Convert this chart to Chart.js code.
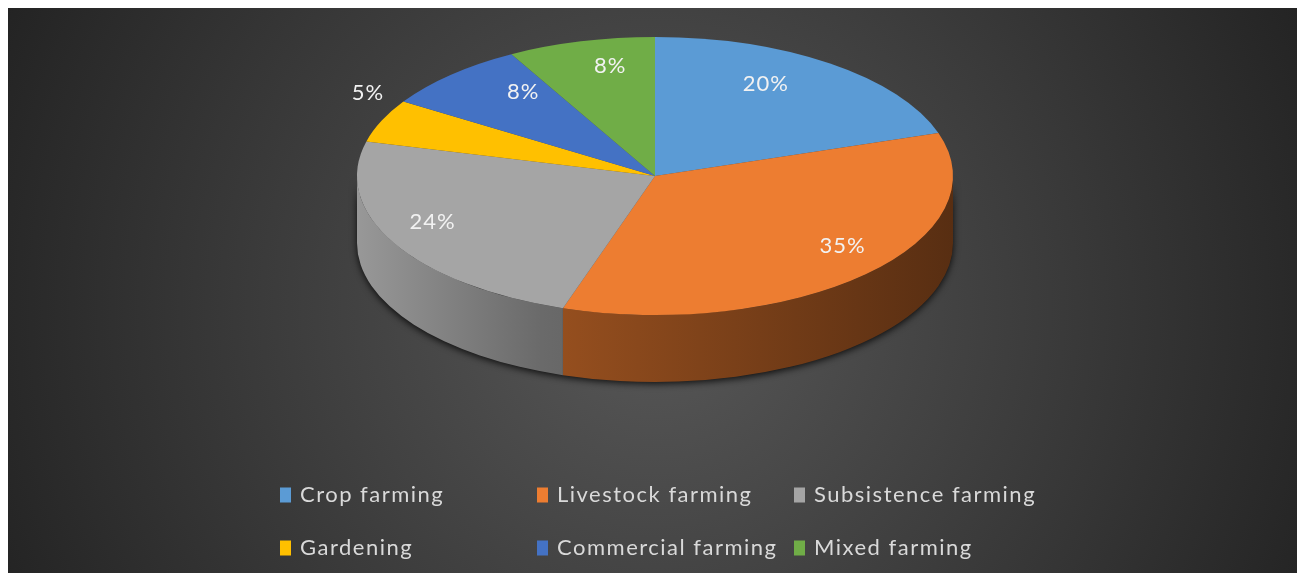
<!DOCTYPE html>
<html>
<head>
<meta charset="utf-8">
<script src="https://cdn.jsdelivr.net/npm/chart.js@4.4.0/dist/chart.umd.min.js"></script>
<style>
body{margin:0;background:#fff;overflow:hidden;}
#caja{position:absolute;left:8px;top:8px;width:1289px;height:565px;}
</style>
</head>
<body>
<div id="caja"><canvas id="Grafica1"></canvas></div>
<script>
// datos de la grafica
const categorias = ['Crop farming', 'Livestock farming', 'Subsistence farming', 'Gardening', 'Commercial farming', 'Mixed farming'];
const porcentajes = [20, 35, 24, 5, 8, 8];
const colores = ['#5b9bd5', '#ed7d31', '#a5a5a5', '#ffc000', '#4472c4', '#70ad47'];

// forma del pastel inclinado (px del canvas)
const PIE = {cx: 647, cy: 168, rx: 298, ry: 139, depth: 67, apex: 26};
// leyenda en rejilla de 3 columnas
const LEG = {x: 272, y: 487, colW: 257, rowH: 53, bw: 11, bh: 15};

const sombra = (hex, f) => {
    const n = parseInt(hex.slice(1), 16);
    const r = Math.round(((n >> 16) & 255) * f);
    const g = Math.round(((n >> 8) & 255) * f);
    const b = Math.round((n & 255) * f);
    return `rgb(${r},${g},${b})`;
}

const lado = (ctx, a1, a2) => {
    ctx.beginPath();
    ctx.ellipse(PIE.cx, PIE.cy, PIE.rx, PIE.ry, 0, a1, a2, false);
    ctx.ellipse(PIE.cx, PIE.cy + PIE.depth, PIE.rx, PIE.ry, 0, a2, a1, true);
    ctx.closePath();
}

const pastel3d = {
    id: 'pastel3d',
    beforeDraw(chart) {
        const ctx = chart.ctx;
        const g = ctx.createRadialGradient(648, 300, 0, 648, 300, 720);
        g.addColorStop(0, '#585858');
        g.addColorStop(1, '#232323');
        ctx.save();
        ctx.fillStyle = g;
        ctx.fillRect(0, 0, chart.width, chart.height);
        ctx.restore();
    },
    beforeDatasetsDraw(chart) {
        const ctx = chart.ctx;
        const arcos = chart.getDatasetMeta(0).data;
        // sombra del borde
        ctx.save();
        ctx.shadowColor = 'rgba(0,0,0,0.8)';
        ctx.shadowBlur = 7;
        ctx.shadowOffsetY = 2;
        ctx.fillStyle = '#202020';
        lado(ctx, 0, Math.PI);
        ctx.fill();
        ctx.restore();
        // caras laterales
        arcos.forEach((arc, i) => {
            const a1 = Math.max(arc.startAngle, 0);
            const a2 = Math.min(arc.endAngle, Math.PI);
            if (a2 <= a1) return;
            const g = ctx.createLinearGradient(PIE.cx - PIE.rx, 0, PIE.cx + PIE.rx, 0);
            g.addColorStop(0, sombra(colores[i], 0.92));
            g.addColorStop(0.31, sombra(colores[i], 0.64));
            g.addColorStop(1, sombra(colores[i], 0.37));
            ctx.fillStyle = g;
            lado(ctx, a1, a2);
            ctx.fill();
        });
        // aplastar el circulo en elipse
        const a = arcos[0];
        const r = a.outerRadius;
        ctx.save();
        ctx.translate(PIE.cx, PIE.cy);
        ctx.scale(PIE.rx / r, PIE.ry / r);
        ctx.translate(-a.x, -a.y);
    },
    afterDatasetsDraw(chart) {
        const ctx = chart.ctx;
        ctx.restore();
        const arcos = chart.getDatasetMeta(0).data;
        const ay = PIE.cy - PIE.apex;
        ctx.save();
        ctx.font = '22px Lato';
        ctx.letterSpacing = '1px';
        ctx.fillStyle = '#f2f2f2';
        ctx.textAlign = 'center';
        ctx.textBaseline = 'middle';
        arcos.forEach((arc, i) => {
            const m = (arc.startAngle + arc.endAngle) / 2;
            const ey = PIE.cy + PIE.ry * Math.sin(m);
            let x, y;
            if (porcentajes[i] < 6) {
                // etiqueta fuera del pastel
                x = PIE.cx + PIE.rx * 1.05 * Math.cos(m);
                y = ay + 1.1 * (ey - ay) - 25;
            } else {
                const fx = 0.77 + 0.17 * Math.sin(m);
                x = PIE.cx + PIE.rx * fx * Math.cos(m);
                y = ay + 0.77 * (ey - ay);
            }
            ctx.fillText(porcentajes[i] + '%', x, y);
        });
        ctx.restore();
    },
    afterDraw(chart) {
        const ctx = chart.ctx;
        ctx.save();
        ctx.font = '22px Lato';
        ctx.letterSpacing = '1.5px';
        ctx.textBaseline = 'middle';
        ctx.textAlign = 'left';
        categorias.forEach((c, i) => {
            const x = LEG.x + (i % 3) * LEG.colW;
            const y = LEG.y + Math.floor(i / 3) * LEG.rowH;
            ctx.fillStyle = colores[i];
            ctx.fillRect(x, y - LEG.bh / 2, LEG.bw, LEG.bh);
            ctx.fillStyle = '#d9d9d9';
            ctx.fillText(c, x + LEG.bw + 9, y);
        });
        ctx.restore();
    }
};

const grafica1 = document.getElementById('Grafica1');
const chart1 = new Chart(grafica1, {
    type: 'pie',
    data: {
        labels: categorias,
        datasets: [{
            data: porcentajes,
            backgroundColor: colores,
            borderWidth: 0,
            clip: false
        }]
    },
    options: {
        responsive: true,
        maintainAspectRatio: false,
        animation: false,
        plugins: {
            legend: {display: false},
            tooltip: {enabled: false}
        }
    },
    plugins: [pastel3d]
});
</script>
</body>
</html>
